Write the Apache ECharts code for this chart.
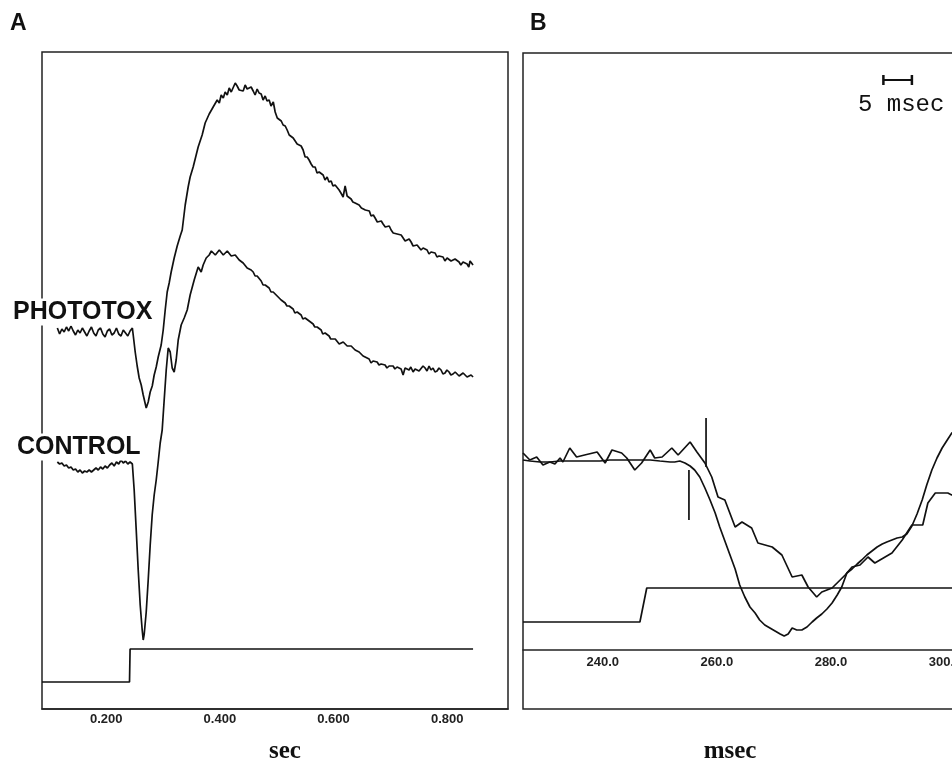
<!DOCTYPE html>
<html><head><meta charset="utf-8">
<script src="https://cdn.jsdelivr.net/npm/echarts@6/dist/echarts.min.js"></script>
<style>html,body{margin:0;padding:0;background:#fff}#c{width:952px;height:763px}</style>
</head><body><div id="c"></div>
<script>
// ---------- DATA ----------
// Panel A: time in seconds, response in arbitrary units
var tickLabelsA = [0.2, 0.4, 0.6, 0.8];
var tickLabelsB = [240, 260, 280, 300];
var phototoxA = [
[0.114,76.2],[0.118,75.0],[0.122,76.0],[0.126,75.4],[0.130,76.4],[0.134,75.6],[0.138,76.6],[0.142,75.6],[0.146,74.8],[0.150,75.8],[0.154,75.2],[0.158,76.2],[0.162,75.4],[0.166,74.6],[0.170,75.6],[0.174,76.4],[0.178,75.2],[0.182,74.6],[0.186,75.8],[0.190,76.2],[0.194,75.0],[0.198,74.4],[0.202,75.6],[0.206,76.0],[0.210,74.8],[0.214,75.2],[0.218,76.2],[0.222,75.0],[0.226,74.6],[0.230,75.8],[0.234,75.2],[0.238,74.6],[0.242,75.6],[0.246,76.2],
[0.2475,74.8],[0.2510,71.4],[0.2545,68.6],[0.2580,66.2],[0.2616,64.8],[0.2651,62.8],[0.2704,60.2],[0.2739,61.4],[0.2774,63.4],[0.2810,64.6],[0.2844,66.8],[0.2880,68.4],[0.2915,70.4],[0.2967,72.8],[0.3003,75.8],[0.3038,79.8],[0.3073,83.4],[0.3108,85.2],[0.3143,87.4],[0.3196,90.2],[0.3249,92.6],[0.3302,94.6],[0.3337,95.8],[0.3390,100.8],[0.3442,104.4],[0.3477,106.4],[0.3530,108.4],[0.3583,110.8],[0.3618,112.4],[0.3688,114.8],[0.3741,117.2],[0.3812,119.0],[0.3882,120.4],[0.3953,121.8],
[0.3990,121.2],[0.4023,122.8],[0.4060,122.2],[0.4093,123.4],[0.4130,122.8],[0.4164,124.2],[0.4200,123.4],[0.4234,123.8],[0.4270,125.2],[0.4304,124.6],[0.4340,123.8],[0.4375,124.2],[0.4410,123.6],[0.4445,124.8],[0.4480,124.0],[0.4515,123.8],[0.4550,124.4],[0.4586,123.6],[0.4620,122.8],[0.4656,124.0],[0.4690,123.2],[0.4727,123.0],[0.4760,121.8],[0.4797,122.6],[0.4830,121.6],[0.4867,121.8],[0.4900,120.6],[0.4920,120.2],[0.4940,121.4],[0.4973,119.4],[0.5010,118.2],[0.5043,118.0],[0.5080,117.6],[0.5113,116.8],[0.5150,116.6],[0.5184,115.8],[0.5220,114.8],[0.5254,114.6],[0.5290,114.2],[0.5325,113.8],[0.5360,113.0],[0.5395,112.8],[0.5430,112.6],[0.5465,111.8],[0.5500,110.4],[0.5536,110.4],[0.5570,109.8],[0.5606,109.0],[0.5640,108.4],[0.5676,108.4],[0.5710,107.2],[0.5747,107.4],[0.5780,107.0],[0.5817,106.8],[0.5850,105.8],[0.5887,106.4],[0.5920,105.4],[0.5958,105.6],[0.5990,104.6],[0.6028,104.8],[0.6060,104.4],[0.6098,103.8],[0.6130,103.2],[0.6169,102.4],[0.6204,104.6],[0.6239,102.6],[0.6270,102.8],[0.6309,102.0],[0.6340,101.4],[0.6380,101.2],[0.6410,101.6],[0.6450,100.8],[0.6490,100.2],[0.6521,100.4],[0.6560,99.8],[0.6591,99.4],[0.6630,99.6],[0.6661,98.6],[0.6700,98.8],[0.6732,98.2],[0.6770,97.4],[0.6802,97.4],[0.6840,97.6],[0.6872,97.0],[0.6910,96.4],[0.6943,96.2],[0.6980,96.6],[0.7013,95.8],[0.7050,95.2],[0.7083,95.4],[0.7120,95.0],[0.7154,94.6],[0.7190,94.8],[0.7224,94.4],[0.7260,93.6],[0.7294,93.8],[0.7330,94.0],[0.7365,93.4],[0.7400,92.6],[0.7435,93.0],[0.7470,92.8],[0.7505,92.4],[0.7540,91.8],[0.7576,92.2],[0.7610,92.4],[0.7646,91.8],[0.7680,91.0],[0.7716,91.4],[0.7750,91.6],[0.7787,91.2],[0.7820,90.4],[0.7857,90.6],[0.7890,91.0],[0.7927,90.4],[0.7960,89.6],[0.7998,90.2],[0.8030,90.6],[0.8068,89.6],[0.8100,89.2],[0.8138,90.0],[0.8170,90.2],[0.8209,89.4],[0.8240,88.8],[0.8279,89.4],[0.8310,89.8],[0.8350,89.0],[0.8380,88.4],[0.8402,89.6],[0.8430,89.2],[0.8455,88.8]
];
var controlA = [
[0.114,49.4],[0.118,49.0],[0.122,49.2],[0.126,48.6],[0.130,48.8],[0.134,48.2],[0.138,48.4],[0.142,47.8],[0.146,48.0],[0.150,47.4],[0.154,47.8],[0.158,47.2],[0.162,47.6],[0.166,47.4],[0.170,47.8],[0.174,47.4],[0.178,47.8],[0.182,48.2],[0.186,47.8],[0.190,48.4],[0.194,48.0],[0.198,48.6],[0.202,48.2],[0.206,48.8],[0.210,49.2],[0.214,48.6],[0.218,49.4],[0.222,49.0],[0.226,49.8],[0.230,49.2],[0.234,49.6],[0.238,49.0],[0.242,49.4],[0.246,49.0],
[0.2457,48.8],[0.2492,43.8],[0.2528,35.8],[0.2563,27.8],[0.2598,20.8],[0.2633,15.8],[0.2651,13.8],[0.2669,15.0],[0.2704,19.4],[0.2739,25.8],[0.2774,32.8],[0.2809,38.8],[0.2844,42.8],[0.2880,45.8],[0.2915,49.4],[0.2950,53.2],[0.2985,55.8],[0.3020,61.8],[0.3056,67.8],[0.3091,72.2],[0.3126,71.4],[0.3161,68.2],[0.3196,67.4],[0.3231,69.8],[0.3267,73.8],[0.3319,76.8],[0.3372,78.2],[0.3425,79.8],[0.3477,82.8],[0.3548,85.8],[0.3618,88.4],[0.3671,87.4],[0.3706,88.8],[0.3759,90.2],[0.3812,90.8],[0.3850,91.6],[0.3882,91.4],[0.3920,90.8],[0.3953,91.2],[0.3990,91.8],[0.4023,91.6],[0.4060,90.8],[0.4093,91.0],[0.4130,91.6],[0.4164,91.4],[0.4200,90.6],[0.4234,90.6],[0.4270,90.8],[0.4304,90.4],[0.4340,89.8],[0.4375,89.8],[0.4410,89.2],[0.4445,89.0],[0.4480,88.2],[0.4515,88.2],[0.4550,87.8],[0.4586,87.4],[0.4620,86.6],[0.4656,86.6],[0.4690,86.2],[0.4727,85.6],[0.4760,84.8],[0.4797,84.8],[0.4830,84.6],[0.4867,84.2],[0.4900,83.4],[0.4938,83.4],[0.4970,83.0],[0.5008,82.6],[0.5040,82.2],[0.5078,81.8],[0.5110,81.6],[0.5149,81.2],[0.5180,80.6],[0.5219,80.6],[0.5250,80.4],[0.5289,80.0],[0.5320,79.2],[0.5360,79.4],[0.5390,79.2],[0.5430,78.8],[0.5460,78.0],[0.5500,78.2],[0.5530,77.8],[0.5571,77.6],[0.5600,77.2],[0.5641,77.0],[0.5670,76.4],[0.5711,76.4],[0.5740,76.2],[0.5782,75.8],[0.5810,75.0],[0.5852,75.2],[0.5880,74.8],[0.5922,74.6],[0.5950,74.0],[0.5993,74.0],[0.6030,74.0],[0.6063,73.6],[0.6100,73.0],[0.6133,73.2],[0.6170,73.4],[0.6204,73.2],[0.6240,72.6],[0.6274,72.8],[0.6310,72.6],[0.6344,72.4],[0.6380,71.8],[0.6415,71.8],[0.6450,71.4],[0.6485,71.0],[0.6520,70.6],[0.6556,70.4],[0.6590,70.2],[0.6626,70.0],[0.6660,69.2],[0.6696,69.6],[0.6730,69.8],[0.6767,69.4],[0.6800,68.8],[0.6837,69.0],[0.6870,69.4],[0.6907,68.8],[0.6940,68.2],[0.6978,68.6],[0.7010,69.0],[0.7048,68.6],[0.7080,68.0],[0.7118,68.4],[0.7150,68.8],[0.7189,68.0],[0.7224,66.8],[0.7259,68.2],[0.7290,68.6],[0.7329,67.8],[0.7360,68.4],[0.7400,67.4],[0.7435,68.0],[0.7470,68.2],[0.7505,67.6],[0.7540,68.0],[0.7575,68.6],[0.7611,68.2],[0.7645,67.6],[0.7681,68.6],[0.7715,67.8],[0.7751,68.2],[0.7785,67.4],[0.7822,67.6],[0.7855,68.2],[0.7892,67.8],[0.7925,67.0],[0.7962,67.2],[0.7995,67.8],[0.8033,67.4],[0.8065,66.8],[0.8103,67.0],[0.8140,67.4],[0.8173,67.2],[0.8210,66.6],[0.8244,66.8],[0.8280,67.2],[0.8314,67.0],[0.8350,66.4],[0.8385,66.6],[0.8420,66.8],[0.8455,66.4]
];
var stimulusA = [[0.087,5.4],[0.241,5.4],[0.242,12.0],[0.8455,12.0]];

// Panel B: time in msec
var smoothB = [
[226.0,38.0],[227.2,37.8],[229.0,37.6],[230.7,37.6],[232.5,37.8],[234.2,37.8],[236.0,37.8],[237.7,37.8],[239.5,37.8],[241.2,38.0],[243.0,38.0],[244.7,38.0],[246.5,38.0],[248.3,38.0],[250.0,37.8],[251.8,37.6],[252.6,37.6],[253.5,37.8],[254.4,37.4],[255.3,36.8],[256.1,36.0],[257.0,34.6],[257.9,32.4],[258.8,30.0],[259.7,27.4],[260.5,24.6],[261.4,21.8],[262.3,19.0],[263.2,16.2],[264.0,13.0],[264.9,10.6],[265.8,8.6],[266.7,7.4],[267.5,6.0],[268.4,5.0],[269.3,4.4],[270.2,3.8],[271.1,3.2],[271.8,2.8],[272.5,3.2],[273.2,4.4],[274.0,4.0],[274.9,4.0],[275.8,4.6],[276.7,5.6],[277.5,6.4],[278.4,7.2],[279.3,8.2],[280.2,9.4],[281.1,11.0],[281.9,12.6],[282.8,15.4],[283.7,16.2],[284.6,17.2],[285.4,18.0],[286.3,19.0],[287.2,19.8],[288.1,20.6],[289.0,21.2],[289.8,21.6],[290.7,22.0],[291.6,22.4],[292.5,22.6],[293.3,23.2],[294.2,24.8],[295.1,27.2],[296.0,30.0],[296.8,33.0],[297.7,36.0],[298.6,38.4],[299.5,40.4],[300.4,42.0],[301.2,43.4],[302.6,44.4]
];
var noisyB = [
[226.0,39.4],[227.2,38.0],[228.4,38.6],[229.5,37.0],[230.7,37.6],[231.6,37.2],[232.5,38.4],[233.0,37.6],[234.2,40.4],[235.4,38.6],[236.8,39.0],[239.0,39.6],[240.4,37.4],[241.6,40.0],[243.3,39.4],[244.2,38.4],[245.6,36.0],[246.8,37.4],[248.3,40.0],[249.1,38.4],[250.4,38.6],[252.1,40.4],[253.2,39.0],[255.3,41.6],[256.5,39.6],[257.9,37.4],[259.1,34.6],[260.2,30.6],[261.4,30.0],[263.2,24.6],[264.4,25.6],[266.1,24.4],[267.2,21.4],[269.7,20.6],[271.4,19.0],[273.2,14.6],[274.9,15.0],[276.0,12.6],[277.5,10.6],[278.4,11.6],[280.2,12.4],[282.5,15.0],[283.7,16.6],[285.1,17.0],[286.5,18.6],[287.7,17.4],[289.5,18.6],[290.7,19.4],[292.5,22.0],[294.2,25.0],[296.1,25.0],[297.0,29.4],[298.3,31.4],[300.5,31.4],[301.2,31.0],[302.5,31.2]
];
var stimulusB = [[226.0,5.6],[246.5,5.6],[247.7,12.4],[310.0,12.4]];
var markerB1 = [[258.1,46.4],[258.1,36.6]];
var markerB2 = [[255.1,36.0],[255.1,26.0]];
var scaleBarStart = 289.2, scaleBarLength = 5, scaleBarLevel = 114;
var scaleBar = [[scaleBarStart, scaleBarLevel],[scaleBarStart + scaleBarLength, scaleBarLevel]];

// ---------- CHART ----------
var ink = '#111';
var chart = echarts.init(document.getElementById('c'), null, {renderer: 'canvas'});
function trace(data, xi, extra) {
  var s = {type: 'line', data: data, xAxisIndex: xi, yAxisIndex: xi, showSymbol: false, symbol: 'none',
    lineStyle: {color: ink, width: 1.7}, animation: false, silent: true, z: 3};
  if (extra) for (var k in extra) s[k] = extra[k];
  return s;
}
var labelFont = {color: '#222', fontFamily: '"Liberation Sans", Arial, sans-serif', fontWeight: 'bold', fontSize: 13};
chart.setOption({
  animation: false,
  backgroundColor: '#fff',
  grid: [
    {left: 42, top: 52, width: 466, bottom: 54, show: true, borderColor: '#222', borderWidth: 1.5, backgroundColor: 'transparent', outerBoundsMode: 'none', containLabel: false},
    {left: 523, top: 53, width: 479, bottom: 54, show: true, borderColor: '#222', borderWidth: 1.5, backgroundColor: 'transparent', outerBoundsMode: 'none', containLabel: false}
  ],
  xAxis: [
    {type: 'value', gridIndex: 0, min: 0.087, max: 0.907, splitLine: {show: false},
     axisLine: {show: true, lineStyle: {color: '#222', width: 1.5}}, axisTick: {show: false},
     axisLabel: Object.assign({customValues: tickLabelsA, margin: 4, formatter: function (v) { return v.toFixed(3); }}, labelFont)},
    {type: 'value', gridIndex: 1, min: 226, max: 310, offset: -59, splitLine: {show: false},
     axisLine: {show: true, onZero: false, lineStyle: {color: '#222', width: 1.5}}, axisTick: {show: false},
     axisLabel: Object.assign({customValues: tickLabelsB, margin: 6, formatter: function (v) { return v.toFixed(1); }}, labelFont)}
  ],
  yAxis: [
    {type: 'value', gridIndex: 0, min: 0, max: 131.4, show: false, splitLine: {show: false}},
    {type: 'value', gridIndex: 1, min: -11.8, max: 119.4, splitLine: {show: false},
     axisLine: {show: false, onZero: false}, axisTick: {show: false}, axisLabel: {show: false}}
  ],
  series: [
    trace(phototoxA, 0),
    trace(controlA, 0),
    trace(stimulusA, 0),
    trace(smoothB, 1),
    trace(noisyB, 1),
    trace(stimulusB, 1),
    trace(markerB1, 1),
    trace(markerB2, 1),
    trace(scaleBar, 1, {showSymbol: true, symbol: 'rect', symbolSize: [2.5, 10], itemStyle: {color: ink}, lineStyle: {color: ink, width: 2}})
  ],
  graphic: [
    {type: 'text', x: 10, y: 24, z: 100, style: {text: 'A', fill: ink, font: 'bold 23px "Liberation Sans", Arial, sans-serif', verticalAlign: 'middle'}},
    {type: 'text', x: 530, y: 24, z: 100, style: {text: 'B', fill: ink, font: 'bold 23px "Liberation Sans", Arial, sans-serif', verticalAlign: 'middle'}},
    {type: 'text', x: 13, y: 312, z: 100, style: {text: 'PHOTOTOX', fill: ink, font: 'bold 25px "Liberation Sans", Arial, sans-serif', verticalAlign: 'middle', backgroundColor: '#fff', padding: [1, 0]}},
    {type: 'text', x: 17, y: 447, z: 100, style: {text: 'CONTROL', fill: ink, font: 'bold 25px "Liberation Sans", Arial, sans-serif', verticalAlign: 'middle', backgroundColor: '#fff', padding: [1, 0]}},
    {type: 'text', x: 285, y: 752, z: 100, style: {text: 'sec', fill: ink, font: 'bold 25px "Liberation Serif", "Times New Roman", serif', align: 'center', verticalAlign: 'middle'}},
    {type: 'text', x: 730, y: 752, z: 100, style: {text: 'msec', fill: ink, font: 'bold 25px "Liberation Serif", "Times New Roman", serif', align: 'center', verticalAlign: 'middle'}},
    {type: 'text', x: 858, y: 105, z: 100, style: {text: '5 msec', fill: ink, font: '24px "Liberation Mono", "Courier New", monospace', verticalAlign: 'middle'}}
  ]
});
</script></body></html>
